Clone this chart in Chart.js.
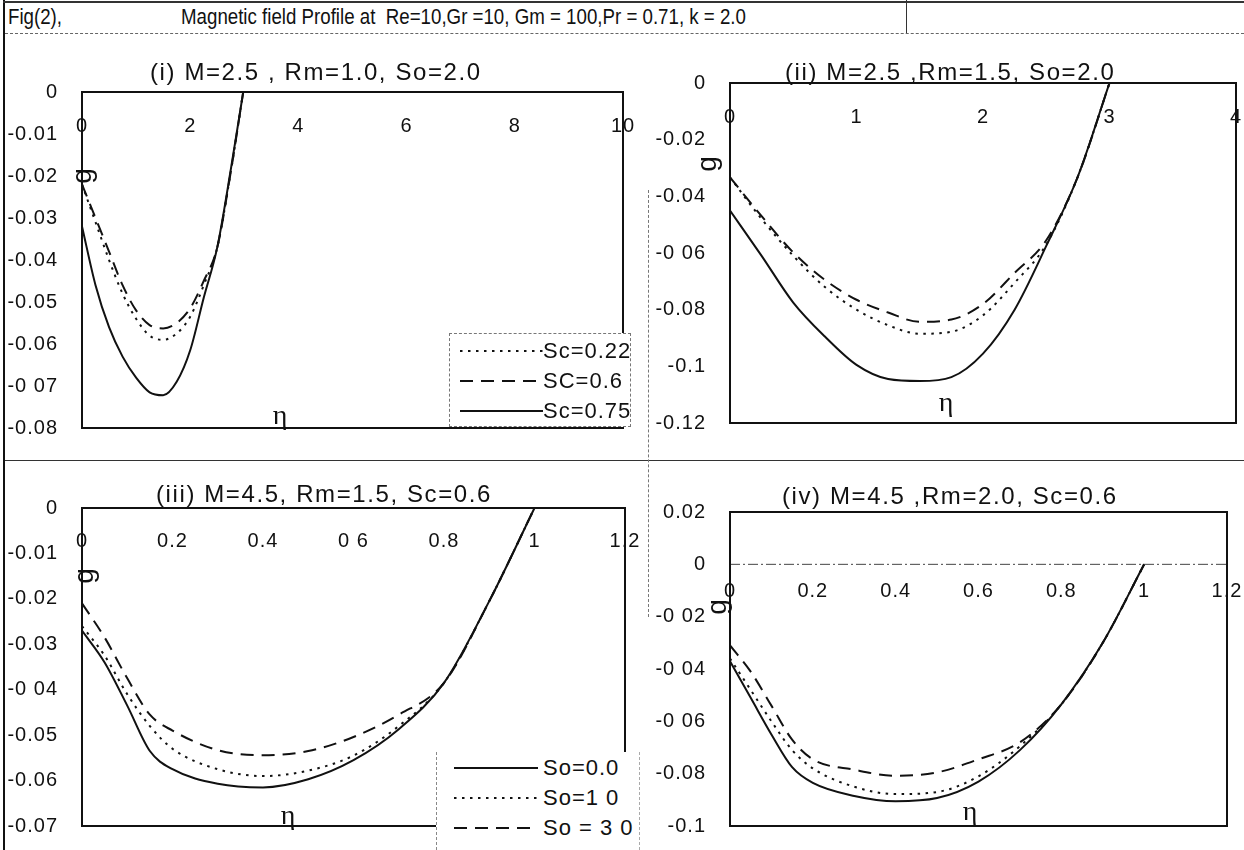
<!DOCTYPE html>
<html>
<head>
<meta charset="utf-8">
<script src="https://cdn.jsdelivr.net/npm/chart.js@4.4.1/dist/chart.umd.min.js"></script>
<style>
    html, body { margin: 0; padding: 0; background: #fff; overflow: hidden; }
    body { width: 1244px; height: 850px; position: relative; font-family: "Liberation Sans", Arial, sans-serif; color: #111; }
    .rule { position: absolute; }
    canvas.panel { position: absolute; }
    .hdr { position: absolute; font-size: 22px; line-height: 1; white-space: pre; transform: scaleX(0.85); transform-origin: 0 0; }
    .legend { position: absolute; background: #fff; font-size: 22px; letter-spacing: 1px; }
    .legend svg { position: absolute; }
    .legend .lbl { position: absolute; white-space: pre; line-height: 1; transform: translateY(-50%); }
</style>
</head>
<body>

<div class="rule" style="left:3px;top:0;width:2px;height:850px;background:#111"></div>
<div class="rule" style="left:3px;top:1px;width:1241px;height:0;border-top:2px solid #333"></div>
<div class="rule" style="left:906px;top:0;width:0;height:33px;border-left:1px solid #333"></div>
<div class="rule" style="left:5px;top:33px;width:1239px;height:0;border-top:1px dashed #666"></div>
<div class="rule" style="left:5px;top:460px;width:1239px;height:0;border-top:1px solid #333"></div>
<div class="rule" style="left:648px;top:190px;width:0;height:427px;border-left:1px dashed #777"></div>

<div class="hdr" style="left:8px;top:6px">Fig(2),</div>
<div class="hdr" style="left:181px;top:6px">Magnetic field Profile at  Re=10,Gr =10, Gm = 100,Pr = 0.71, k = 2.0</div>

<script>
// ---- data ----

// (i) M=2.5, Rm=1.0, So=2.0
const p1Eta = [0, 0.25, 0.5, 0.75, 1.0, 1.25, 1.5, 1.75, 2.0, 2.25, 2.5, 2.75, 2.98];
const p1Sc022 = [-0.022, -0.031, -0.040, -0.048, -0.054, -0.058, -0.059, -0.0575, -0.0535, -0.046, -0.037, -0.019, 0];
const p1Sc06 = [-0.022, -0.030, -0.038, -0.046, -0.052, -0.0555, -0.0563, -0.055, -0.0515, -0.045, -0.037, -0.019, 0];
const p1Sc075 = [-0.032, -0.046, -0.056, -0.063, -0.068, -0.0715, -0.0722, -0.069, -0.0615, -0.049, -0.037, -0.0185, 0];
const p1XTicks = [0, 2, 4, 6, 8, 10];
const p1XLabels = ['0', '2', '4', '6', '8', '10'];
const p1YTicks = [0, -0.01, -0.02, -0.03, -0.04, -0.05, -0.06, -0.07, -0.08];
const p1YLabels = ['0', '-0.01', '-0.02', '-0.03', '-0.04', '-0.05', '-0.06', '-0 07', '-0.08'];

// (ii) M=2.5, Rm=1.5, So=2.0
const p2Eta = [0, 0.25, 0.5, 0.75, 1.0, 1.25, 1.5, 1.75, 2.0, 2.25, 2.5, 2.75, 3.0];
const p2Sc022 = [-0.0333, -0.048, -0.061, -0.072, -0.080, -0.0855, -0.0885, -0.0878, -0.082, -0.0705, -0.057, -0.033, 0];
const p2Sc06 = [-0.0333, -0.047, -0.0598, -0.0695, -0.0765, -0.081, -0.0843, -0.0835, -0.078, -0.067, -0.0555, -0.033, 0];
const p2Sc075 = [-0.045, -0.061, -0.0775, -0.0895, -0.0995, -0.1045, -0.1052, -0.1038, -0.0955, -0.080, -0.0575, -0.033, 0];
const p2XTicks = [0, 1, 2, 3, 4];
const p2XLabels = ['0', '1', '2', '3', '4'];
const p2YTicks = [0, -0.02, -0.04, -0.06, -0.08, -0.1, -0.12];
const p2YLabels = ['0', '-0.02', '-0.04', '-0 06', '-0.08', '-0.1', '-0.12'];

// (iii) M=4.5, Rm=1.5, Sc=0.6
const p3Eta = [0, 0.05, 0.1, 0.15, 0.2, 0.3, 0.4, 0.5, 0.6, 0.7, 0.8, 0.9, 1.0];
const p3So0 = [-0.027, -0.034, -0.0435, -0.0535, -0.0575, -0.0607, -0.0615, -0.0597, -0.0555, -0.0487, -0.0385, -0.0205, 0];
const p3So1 = [-0.026, -0.0325, -0.041, -0.048, -0.053, -0.0575, -0.059, -0.0578, -0.0545, -0.048, -0.0385, -0.0205, 0];
const p3So3 = [-0.021, -0.0285, -0.0375, -0.0455, -0.049, -0.0533, -0.0544, -0.0535, -0.0504, -0.0455, -0.0385, -0.0205, 0];
const p3XTicks = [0, 0.2, 0.4, 0.6, 0.8, 1, 1.2];
const p3XLabels = ['0', '0.2', '0.4', '0 6', '0.8', '1', '1.2'];
const p3YTicks = [0, -0.01, -0.02, -0.03, -0.04, -0.05, -0.06, -0.07];
const p3YLabels = ['0', '-0.01', '-0.02', '-0.03', '-0 04', '-0.05', '-0.06', '-0.07'];

// (iv) M=4.5, Rm=2.0, Sc=0.6
const p4Eta = [0, 0.05, 0.1, 0.15, 0.2, 0.3, 0.4, 0.5, 0.6, 0.7, 0.8, 0.9, 1.0];
const p4So0 = [-0.037, -0.051, -0.065, -0.0775, -0.0835, -0.0885, -0.0905, -0.0893, -0.083, -0.071, -0.0535, -0.030, 0];
const p4So1 = [-0.036, -0.048, -0.060, -0.071, -0.078, -0.085, -0.0878, -0.087, -0.081, -0.0695, -0.0535, -0.030, 0];
const p4So3 = [-0.031, -0.041, -0.054, -0.067, -0.0745, -0.0785, -0.0808, -0.0795, -0.0745, -0.068, -0.0535, -0.030, 0];
const p4XTicks = [0, 0.2, 0.4, 0.6, 0.8, 1, 1.2];
const p4XLabels = ['0', '0.2', '0.4', '0.6', '0.8', '1', '1.2'];
const p4YTicks = [0.02, 0, -0.02, -0.04, -0.06, -0.08, -0.1];
const p4YLabels = ['0.02', '0', '-0 02', '-0 04', '-0 06', '-0.08', '-0.1'];

const scLabels = ['Sc=0.22', 'SC=0.6', 'Sc=0.75'];
const soLabels = ['So=0.0', 'So=1 0', 'So = 3 0'];

// ---- styling ----
const INK = '#111';
const FONT = '"Liberation Sans", Arial, sans-serif';
const DASHES = { solid: [], dotted: [2.5, 5.5], dashed: [13, 8] };
const AXIS_W = 80, PAD_T = 60, PAD_R = 20, PAD_B = 20;

// frame, zero line, title, g and eta drawn on top of each panel
const panelDecor = {
    id: 'panelDecor',
    beforeDraw(chart) {
        chart.ctx.letterSpacing = '1px';
    },
    afterDraw(chart, args, o) {
        const ctx = chart.ctx;
        const a = chart.chartArea;
        ctx.save();
        if (o.zeroLine) {
            const y0 = chart.scales.y.getPixelForValue(0);
            ctx.strokeStyle = '#444';
            ctx.lineWidth = 1;
            ctx.setLineDash([10, 3, 2, 3]);
            ctx.beginPath();
            ctx.moveTo(a.left, y0);
            ctx.lineTo(a.right, y0);
            ctx.stroke();
            ctx.setLineDash([]);
        }
        ctx.strokeStyle = INK;
        ctx.lineWidth = 2;
        ctx.strokeRect(a.left, a.top, a.right - a.left, a.bottom - a.top);

        ctx.fillStyle = INK;
        ctx.letterSpacing = '1.6px';
        ctx.font = '24px ' + FONT;
        ctx.textAlign = 'left';
        ctx.textBaseline = 'middle';
        ctx.fillText(o.title, a.left + o.titleDx, a.top + o.titleDy);

        ctx.letterSpacing = '0px';
        ctx.save();
        ctx.translate(a.left + o.gDx, a.top + o.gDy);
        ctx.rotate(-Math.PI / 2);
        ctx.font = '28px ' + FONT;
        ctx.textAlign = 'center';
        ctx.fillText('g', 0, 0);
        ctx.restore();

        ctx.font = '28px "Liberation Serif", "Times New Roman", serif';
        ctx.textAlign = 'center';
        ctx.fillText('\u03B7', a.left + o.etaDx, a.bottom + o.etaDy);
        ctx.restore();
    }
};

function makePanel(p) {
    const cv = document.createElement('canvas');
    cv.className = 'panel';
    cv.width = (p.area.r - p.area.l) + AXIS_W + PAD_R;
    cv.height = (p.area.b - p.area.t) + PAD_T + PAD_B;
    cv.style.left = (p.area.l - AXIS_W) + 'px';
    cv.style.top = (p.area.t - PAD_T) + 'px';
    document.body.appendChild(cv);

    new Chart(cv, {
        type: 'line',
        data: {
            datasets: p.series.map(function(s) {
                return {
                    label: s.label,
                    data: p.eta.map(function(x, i) { return { x: x, y: s.values[i] }; }),
                    borderColor: INK,
                    borderWidth: 2,
                    borderDash: DASHES[s.style],
                    pointRadius: 0,
                    fill: false,
                    cubicInterpolationMode: 'monotone'
                };
            })
        },
        options: {
            responsive: false,
            animation: false,
            layout: { padding: { left: 0, top: PAD_T, right: PAD_R, bottom: PAD_B } },
            scales: {
                x: {
                    type: 'linear',
                    position: { y: 0 },
                    min: p.xTicks[0],
                    max: p.xTicks[p.xTicks.length - 1],
                    grid: { display: false },
                    border: { display: false },
                    afterFit: function(scale) {
                        scale.paddingLeft = 0;
                        scale.paddingRight = 0;
                    },
                    afterBuildTicks: function(scale) {
                        scale.ticks = p.xTicks.map(function(v) { return { value: v }; });
                    },
                    ticks: {
                        color: INK,
                        padding: p.xPad,
                        maxRotation: 0,
                        font: { family: FONT, size: 20 },
                        callback: function(value, index) { return p.xLabels[index]; }
                    }
                },
                y: {
                    type: 'linear',
                    position: 'left',
                    min: p.yMin,
                    max: p.yMax,
                    grid: { display: false },
                    border: { display: false },
                    afterFit: function(scale) {
                        scale.width = AXIS_W;
                        scale.paddingTop = 0;
                        scale.paddingBottom = 0;
                    },
                    afterBuildTicks: function(scale) {
                        scale.ticks = p.yTicks.map(function(v) { return { value: v }; });
                    },
                    ticks: {
                        color: INK,
                        padding: 16,
                        font: { family: FONT, size: 20 },
                        callback: function(value, index) { return p.yLabels[index]; }
                    }
                }
            },
            plugins: {
                legend: { display: false },
                tooltip: { enabled: false },
                panelDecor: p.decor
            }
        },
        plugins: [panelDecor]
    });
}

function makeLegend(box, entries) {
    const d = document.createElement('div');
    d.className = 'legend';
    d.style.left = box.left + 'px';
    d.style.top = box.top + 'px';
    d.style.width = box.width + 'px';
    d.style.height = box.height + 'px';
    d.style.cssText += box.border;
    entries.forEach(function(e, i) {
        const y = box.rowTop + i * box.rowGap;
        const svg = document.createElementNS('http://www.w3.org/2000/svg', 'svg');
        svg.setAttribute('width', box.sampleW);
        svg.setAttribute('height', 6);
        svg.style.left = box.sampleX + 'px';
        svg.style.top = (y - 3) + 'px';
        const ln = document.createElementNS('http://www.w3.org/2000/svg', 'line');
        ln.setAttribute('x1', 0); ln.setAttribute('y1', 3);
        ln.setAttribute('x2', box.sampleW); ln.setAttribute('y2', 3);
        ln.setAttribute('stroke', INK);
        ln.setAttribute('stroke-width', 2);
        if (DASHES[e.style].length) ln.setAttribute('stroke-dasharray', DASHES[e.style].join(' '));
        svg.appendChild(ln);
        d.appendChild(svg);
        const t = document.createElement('div');
        t.className = 'lbl';
        t.style.left = box.textX + 'px';
        t.style.top = y + 'px';
        t.textContent = e.label;
        d.appendChild(t);
    });
    document.body.appendChild(d);
}

makePanel({
    area: { l: 82, t: 92, r: 623, b: 428 },
    eta: p1Eta,
    series: [
        { label: scLabels[2], values: p1Sc075, style: 'solid' },
        { label: scLabels[1], values: p1Sc06, style: 'dashed' },
        { label: scLabels[0], values: p1Sc022, style: 'dotted' }
    ],
    xTicks: p1XTicks, xLabels: p1XLabels, xPad: 14,
    yTicks: p1YTicks, yLabels: p1YLabels, yMin: -0.08, yMax: 0,
    decor: { title: '(i) M=2.5 , Rm=1.0, So=2.0', titleDx: 68, titleDy: -19, gDx: 1, gDy: 84, etaDx: 198, etaDy: -11 }
});

makePanel({
    area: { l: 730, t: 83, r: 1236, b: 423 },
    eta: p2Eta,
    series: [
        { label: scLabels[2], values: p2Sc075, style: 'solid' },
        { label: scLabels[1], values: p2Sc06, style: 'dashed' },
        { label: scLabels[0], values: p2Sc022, style: 'dotted' }
    ],
    xTicks: p2XTicks, xLabels: p2XLabels, xPad: 14,
    yTicks: p2YTicks, yLabels: p2YLabels, yMin: -0.12, yMax: 0,
    decor: { title: '(ii) M=2.5 ,Rm=1.5, So=2.0', titleDx: 55, titleDy: -10, gDx: -22, gDy: 81, etaDx: 216, etaDy: -19 }
});

makePanel({
    area: { l: 82, t: 508, r: 625, b: 826 },
    eta: p3Eta,
    series: [
        { label: soLabels[0], values: p3So0, style: 'solid' },
        { label: soLabels[1], values: p3So1, style: 'dotted' },
        { label: soLabels[2], values: p3So3, style: 'dashed' }
    ],
    xTicks: p3XTicks, xLabels: p3XLabels, xPad: 13,
    yTicks: p3YTicks, yLabels: p3YLabels, yMin: -0.07, yMax: 0,
    decor: { title: '(iii) M=4.5, Rm=1.5, Sc=0.6', titleDx: 74, titleDy: -13, gDx: 3, gDy: 68, etaDx: 206, etaDy: -9 }
});

makePanel({
    area: { l: 730, t: 512, r: 1227, b: 826 },
    eta: p4Eta,
    series: [
        { label: soLabels[0], values: p4So0, style: 'solid' },
        { label: soLabels[1], values: p4So1, style: 'dotted' },
        { label: soLabels[2], values: p4So3, style: 'dashed' }
    ],
    xTicks: p4XTicks, xLabels: p4XLabels, xPad: 7,
    yTicks: p4YTicks, yLabels: p4YLabels, yMin: -0.1, yMax: 0.02,
    decor: { title: '(iv) M=4.5 ,Rm=2.0, Sc=0.6', titleDx: 52, titleDy: -15, gDx: -12, gDy: 95, etaDx: 240, etaDy: -13, zeroLine: true }
});

// legends sit over the lower right corner of the left-hand panels
makeLegend({
    left: 449, top: 333, width: 182, height: 94,
    border: 'border:1px dashed #777;box-sizing:border-box;',
    rowTop: 17, rowGap: 30, sampleX: 10, sampleW: 83, textX: 93
}, [
    { label: scLabels[0], style: 'dotted' },
    { label: scLabels[1], style: 'dashed' },
    { label: scLabels[2], style: 'solid' }
]);

makeLegend({
    left: 436, top: 752, width: 204, height: 98,
    border: 'border-left:1px dashed #888;border-right:1px dashed #aaa;box-sizing:border-box;',
    rowTop: 16, rowGap: 30, sampleX: 17, sampleW: 84, textX: 106
}, [
    { label: soLabels[0], style: 'solid' },
    { label: soLabels[1], style: 'dotted' },
    { label: soLabels[2], style: 'dashed' }
]);
</script>
</body>
</html>
